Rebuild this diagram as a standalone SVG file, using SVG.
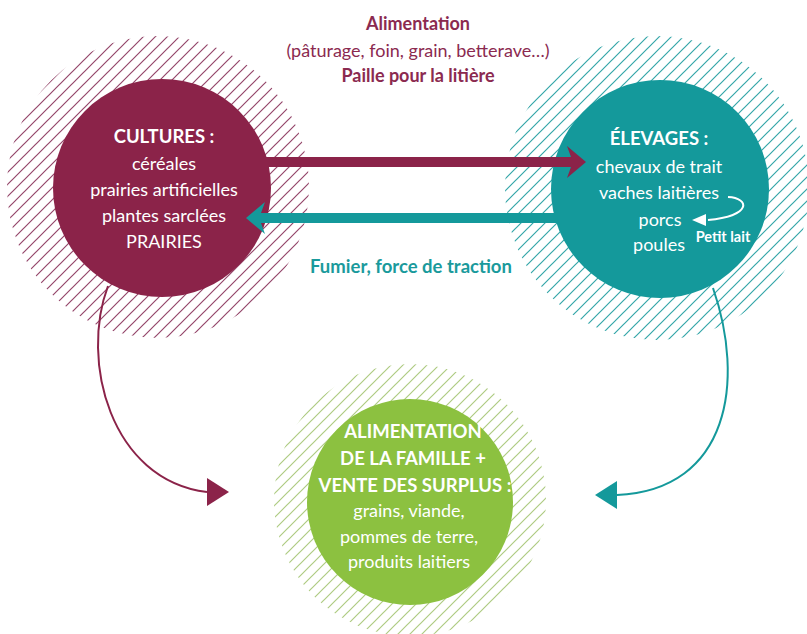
<svg xmlns="http://www.w3.org/2000/svg" width="807" height="634" viewBox="0 0 807 634">
<style>
  text { font-family: Lato, "Open Sans", "Liberation Sans", sans-serif; text-anchor: middle; }
  .b { font-weight: bold; font-size: 18.5px; }
  .w { fill: #ffffff; font-size: 18px; }
  .wb { fill: #ffffff; font-size: 18.5px; font-weight: bold; }
  .m { fill: #8b2a50; font-size: 18px; }
  .t { fill: #1a9a9c; font-size: 18.5px; font-weight: bold; }
  .conn { fill: none; stroke-width: 2; }
  .hatch { stroke-width: 1.2; fill: none; }
</style>
<defs>
  <pattern id="hm" patternUnits="userSpaceOnUse" width="12" height="12">
    <path class="hatch" d="M-2,2 l4,-4 M0,12 l12,-12 M10,14 l4,-4" stroke="#94466a"/>
  </pattern>
  <pattern id="ht" patternUnits="userSpaceOnUse" width="12" height="12">
    <path class="hatch" d="M-2,2 l4,-4 M0,12 l12,-12 M10,14 l4,-4" stroke="#34a6a8"/>
  </pattern>
  <pattern id="hg" patternUnits="userSpaceOnUse" width="12" height="12">
    <path class="hatch" d="M-2,2 l4,-4 M0,12 l12,-12 M10,14 l4,-4" stroke="#aecb82"/>
  </pattern>
</defs>
<rect width="807" height="634" fill="#ffffff"/>

<g id="cultures">
  <circle cx="158" cy="187" r="151" fill="url(#hm)"/>
  <circle cx="162" cy="188" r="109" fill="#8b2349"/>
  <text class="wb" x="164" y="143">CULTURES :</text>
  <text class="w" x="164" y="170">céréales</text>
  <text class="w" x="164" y="196">prairies artificielles</text>
  <text class="w" x="164" y="222">plantes sarclées</text>
  <text class="w" x="164" y="248">PRAIRIES</text>
</g>

<g id="elevages">
  <circle cx="657" cy="188" r="152" fill="url(#ht)"/>
  <circle cx="660" cy="189" r="109" fill="#14999b"/>
  <text class="wb" x="659" y="145">ÉLEVAGES :</text>
  <text class="w" x="659" y="173">chevaux de trait</text>
  <text class="w" x="659" y="199">vaches laitières</text>
  <text class="w" x="660" y="226">porcs</text>
  <text class="w" x="659" y="251">poules</text>
  <path d="M728,197 C750,198 752,216 708,220" fill="none" stroke="#ffffff" stroke-width="2"/>
  <path d="M692,220 L706,214 L706,226 z" fill="#ffffff"/>
  <text x="723" y="242" fill="#ffffff" font-size="14.5" font-weight="bold">Petit lait</text>
</g>

<g id="famille">
  <circle cx="410" cy="500" r="136" fill="url(#hg)"/>
  <circle cx="410" cy="502" r="103" fill="#8cc140"/>
  <text class="wb" x="413" y="438">ALIMENTATION</text>
  <text class="wb" x="413" y="465">DE LA FAMILLE +</text>
  <text class="wb" x="415" y="492">VENTE DES SURPLUS :</text>
  <text class="w" x="409" y="517">grains, viande,</text>
  <text class="w" x="409" y="543">pommes de terre,</text>
  <text class="w" x="409" y="568">produits laitiers</text>
</g>

<g id="labels">
  <text class="m b" x="418" y="30">Alimentation</text>
  <text class="m" x="418" y="57">(pâturage, foin, grain, betterave…)</text>
  <text class="m b" x="418" y="82">Paille pour la litière</text>
  <text class="t" x="411" y="273">Fumier, force de traction</text>
</g>

<g id="connectors">
  <path d="M262,157 L571,157 L567,146 L586,162 L567,178 L571,167 L262,167 z" fill="#8b2349"/>
  <path d="M560,213 L261,213 L265,202 L246,218 L265,234 L261,223 L560,223 z" fill="#14999b"/>
  <path class="conn" d="M108,286 C80,360 110,480 207,492" stroke="#8b2349"/>
  <path class="conn" d="M713,288 C745,380 730,490 617,495" stroke="#14999b"/>
  <path d="M207,478 L229,492 L207,506 z" fill="#8b2349"/>
  <path d="M617,481 L595,495 L617,509 z" fill="#14999b"/>
</g>
</svg>
